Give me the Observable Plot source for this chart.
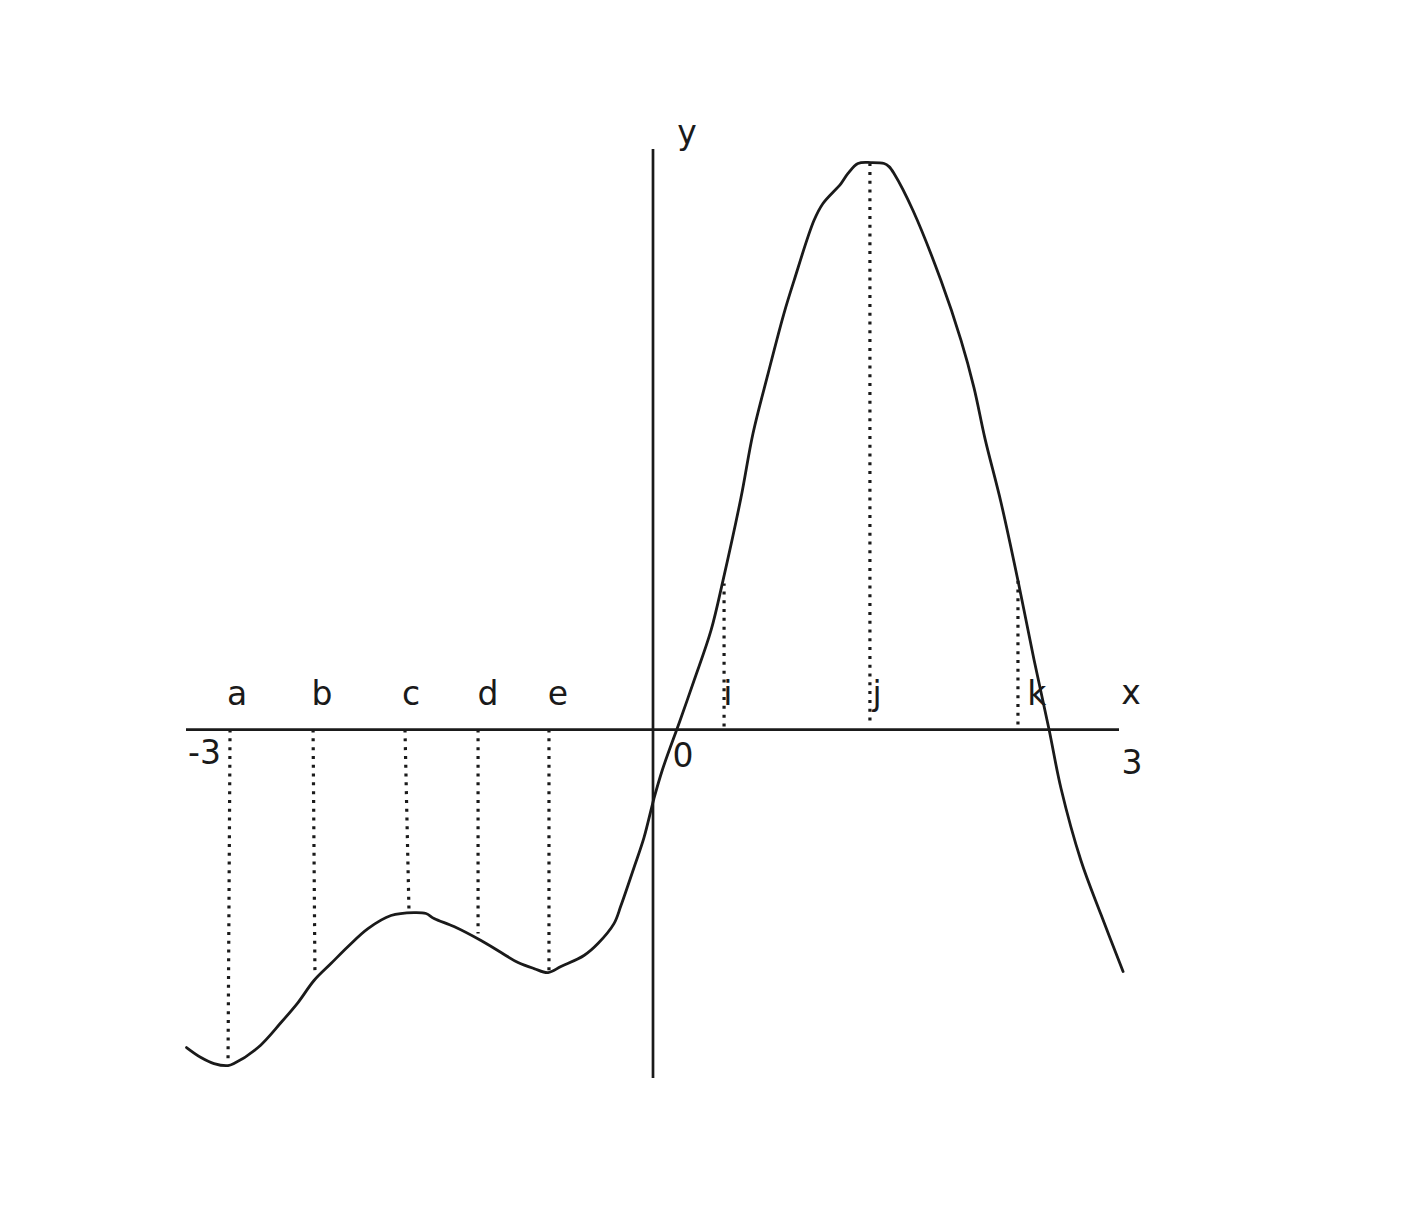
<!DOCTYPE html>
<html>
<head>
<meta charset="utf-8">
<script src="https://cdn.jsdelivr.net/npm/d3@7"></script>
<script src="https://cdn.jsdelivr.net/npm/@observablehq/plot@0.6"></script>
<style>
  html, body { margin: 0; padding: 0; background: #ffffff; }
  #chart svg { display: block; }
</style>
</head>
<body>
<div id="chart"></div>
<script>
// Curve samples (x from -3 to 3)
const curveX = [-3.00, -2.907, -2.823, -2.733, -2.695, -2.540, -2.392, -2.283, -2.180, -2.071,
  -1.961, -1.833, -1.685, -1.537, -1.460, -1.408, -1.280, -1.106, -0.977, -0.868,
  -0.765, -0.675, -0.592, -0.444, -0.354, -0.251, -0.206, -0.122, -0.058, 0.006,
  0.060, 0.174, 0.264, 0.373, 0.450, 0.566, 0.643, 0.740, 0.842,
  0.907, 1.035, 1.093, 1.209, 1.254, 1.318, 1.402, 1.486, 1.518, 1.550,
  1.672, 1.852, 1.981, 2.064, 2.135, 2.238, 2.347, 2.450, 2.547, 2.624,
  2.752, 2.881, 3.023];
const curveY = [-2.045, -2.109, -2.148, -2.161, -2.148, -2.045, -1.884, -1.756, -1.614, -1.505,
  -1.395, -1.280, -1.196, -1.177, -1.183, -1.215, -1.267, -1.357, -1.434, -1.498,
  -1.537, -1.563, -1.524, -1.453, -1.376, -1.248, -1.132, -0.887, -0.695, -0.444,
  -0.260, 0.058, 0.315, 0.637, 0.958, 1.492, 1.904, 2.289, 2.675,
  2.887, 3.273, 3.383, 3.511, 3.576, 3.640, 3.646, 3.640, 3.620, 3.576,
  3.338, 2.887, 2.502, 2.199, 1.871, 1.460, 0.958, 0.450, 0.000, -0.379,
  -0.842, -1.190, -1.556];

// Dotted guide lines
const guideNames = ["a", "b", "c", "d", "e", "i", "j", "k"];
const guideXTop = [-2.720, -2.186, -1.595, -1.125, -0.669, 0.457, 1.395, 2.347];
const guideXBottom = [-2.733, -2.174, -1.569, -1.125, -0.669, 0.457, 1.395, 2.347];
const guideYStart = [0, 0, 0, 0, 0, 0.020, 0.058, 0.032];
const guideYEnd = [-2.148, -1.569, -1.177, -1.312, -1.550, 0.939, 3.640, 0.958];

// Guide letter labels
const labelX = [-2.675, -2.129, -1.556, -1.061, -0.611, 0.482, 1.441, 2.469];
const labelY = 0.161;

// Axis tick labels
const tickLabels = ["-3", "0", "3"];
const tickX = [-2.884, 0.193, 3.080];
const tickY = [-0.219, -0.244, -0.283];

// Axis names
const axisNames = ["x", "y"];
const axisNameX = [3.074, 0.219];
const axisNameY = [0.167, 3.765];

const ink = "#1a1a1a";
const font = "DejaVu Sans";

const curve = curveX.map((x, i) => ({x, y: curveY[i]}));
const guides = guideNames.map((n, i) => ({
  name: n, x1: guideXTop[i], x2: guideXBottom[i], y1: guideYStart[i], y2: guideYEnd[i]
}));
const labels = guideNames.map((n, i) => ({text: n, x: labelX[i], y: labelY}));
const ticks = tickLabels.map((t, i) => ({text: t, x: tickX[i], y: tickY[i]}));
const names = axisNames.map((t, i) => ({text: t, x: axisNameX[i], y: axisNameY[i]}));

const chart = Plot.plot({
  width: 1410,
  height: 1207,
  marginLeft: 186,
  marginRight: 291,
  marginTop: 149,
  marginBottom: 129,
  style: {background: "#ffffff", fontFamily: font},
  x: {domain: [-3, 3], axis: null},
  y: {domain: [-2.244, 3.730], axis: null},
  marks: [
    Plot.link(guides, {
      x1: "x1", y1: "y1", x2: "x2", y2: "y2",
      stroke: ink, strokeWidth: 3.2, strokeDasharray: "3,5.8", strokeLinecap: "butt"
    }),
    Plot.ruleY([0], {stroke: ink, strokeWidth: 2.7}),
    Plot.ruleX([0], {stroke: ink, strokeWidth: 2.7}),
    Plot.line(curve, {x: "x", y: "y", curve: "catmull-rom", stroke: ink, strokeWidth: 2.8}),
    Plot.text(labels, {x: "x", y: "y", text: "text", fontSize: 33, fill: ink, lineAnchor: "bottom", textAnchor: "middle", fontFamily: font}),
    Plot.text(ticks, {x: "x", y: "y", text: "text", fontSize: 33, fill: ink, lineAnchor: "bottom", textAnchor: "middle", fontFamily: font}),
    Plot.text(names, {x: "x", y: "y", text: "text", fontSize: 33, fill: ink, lineAnchor: "bottom", textAnchor: "middle", fontFamily: font})
  ]
});
document.getElementById("chart").appendChild(chart);
</script>
</body>
</html>
